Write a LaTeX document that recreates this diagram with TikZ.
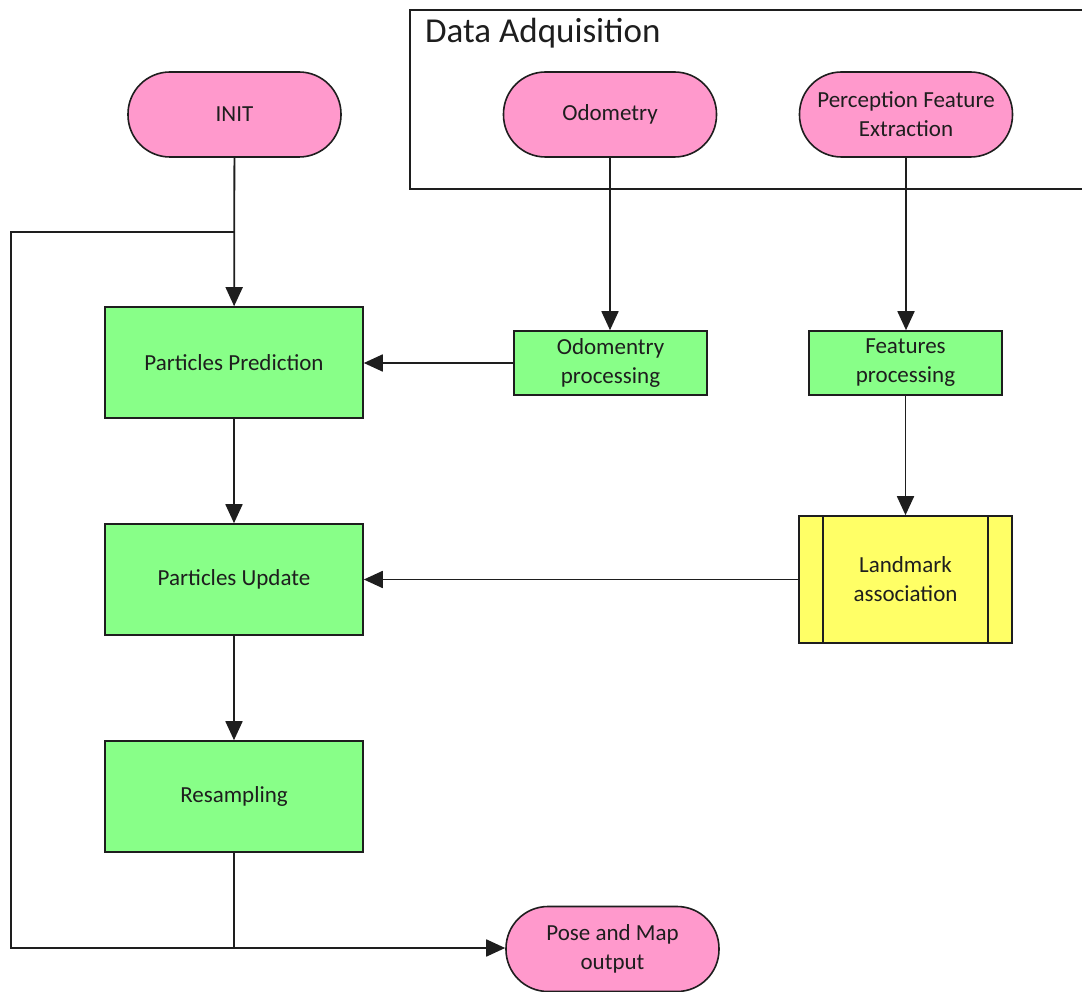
\documentclass[tikz,border=0pt]{standalone}
\usepackage{fontspec}
\setmainfont{Carlito}
\usetikzlibrary{arrows.meta}
\definecolor{termpink}{HTML}{FF99CC}
\definecolor{procgreen}{HTML}{88FF88}
\definecolor{subyellow}{HTML}{FFFF66}
\definecolor{ink}{HTML}{1E1E1E}
\tikzset{
  base/.style={draw=ink, line width=1.6pt, inner sep=0pt, align=center,
    text=ink, font=\fontsize{23}{29}\selectfont},
  term/.style={base, fill=termpink, rounded corners=42pt,
    minimum width=213pt, minimum height=85pt},
  proc/.style={base, fill=procgreen, minimum width=258pt, minimum height=111pt},
  smallproc/.style={base, fill=procgreen, minimum width=193pt, minimum height=64pt},
  subproc/.style={base, fill=subyellow, minimum width=213pt, minimum height=127pt},
  link/.style={draw=ink, line width=1.8pt},
  arr/.style={link, -{Triangle[length=19pt,width=17pt]}}
}
\begin{document}
\begin{tikzpicture}[x=1pt,y=-1pt]
  \clip (0,0) rectangle (1082,992);
  \fill[white] (0,0) rectangle (1082,992);

  % data acquisition group (runs off the right edge)
  \node[draw=ink, line width=1.6pt, anchor=north west, minimum width=700pt,
        minimum height=179pt, inner sep=0pt] (acq) at (409,9) {};
  \node[anchor=west, inner sep=0pt, text=ink, font=\fontsize{35}{40}\selectfont]
        (acqtitle) at (425,33) {Data Adquisition};

  % terminals
  \node[term] (init) at (234.5,114.5) {INIT};
  \node[term] (odo) at (610,114.5) {Odometry};
  \node[term] (pfe) at (906,114.5) {Perception Feature\\Extraction};
  \node[term] (out) at (612.5,949) {Pose and Map\\output};

  % processing steps
  \node[proc] (pred) at (234,362.5) {Particles Prediction};
  \node[proc] (upd) at (234,579.5) {Particles Update};
  \node[proc] (res) at (234,796.5) {Resampling};
  \node[smallproc] (odp) at (610.5,363) {Odomentry\\processing};
  \node[smallproc] (fp) at (905.5,363) {Features\\processing};

  % predefined process
  \node[subproc] (lm) at (905.5,579.5) {Landmark\\association};
  \draw[link] ([xshift=25pt]lm.north west) -- ([xshift=25pt]lm.south west);
  \draw[link] ([xshift=-25pt]lm.north east) -- ([xshift=-25pt]lm.south east);

  % connectors
  \draw[arr] (odo.south) -- (odo.south |- odp.north);
  \draw[arr] (pfe.south) -- (pfe.south |- fp.north);
  \draw[arr] (fp.south) -- (fp.south |- lm.north);
  \draw[arr] (odp.west) -- (odp.west -| pred.east);
  \draw[arr] (lm.west) -- (lm.west -| upd.east);
  \draw[arr] (pred) -- (upd);
  \draw[arr] (upd) -- (res);
  \draw[arr] (init) -- (pred);

  % feedback loop and output
  \coordinate (jtop) at (234,232);
  \coordinate (jbot) at (234,948);
  \coordinate (cbl) at (11,948);
  \coordinate (ctl) at (11,232);
  \draw[link] (res.south) -- (jbot) -- (cbl) -- (ctl) -- (jtop);
  \draw[arr] (jbot) -- (jbot -| out.west);
\end{tikzpicture}
\end{document}
